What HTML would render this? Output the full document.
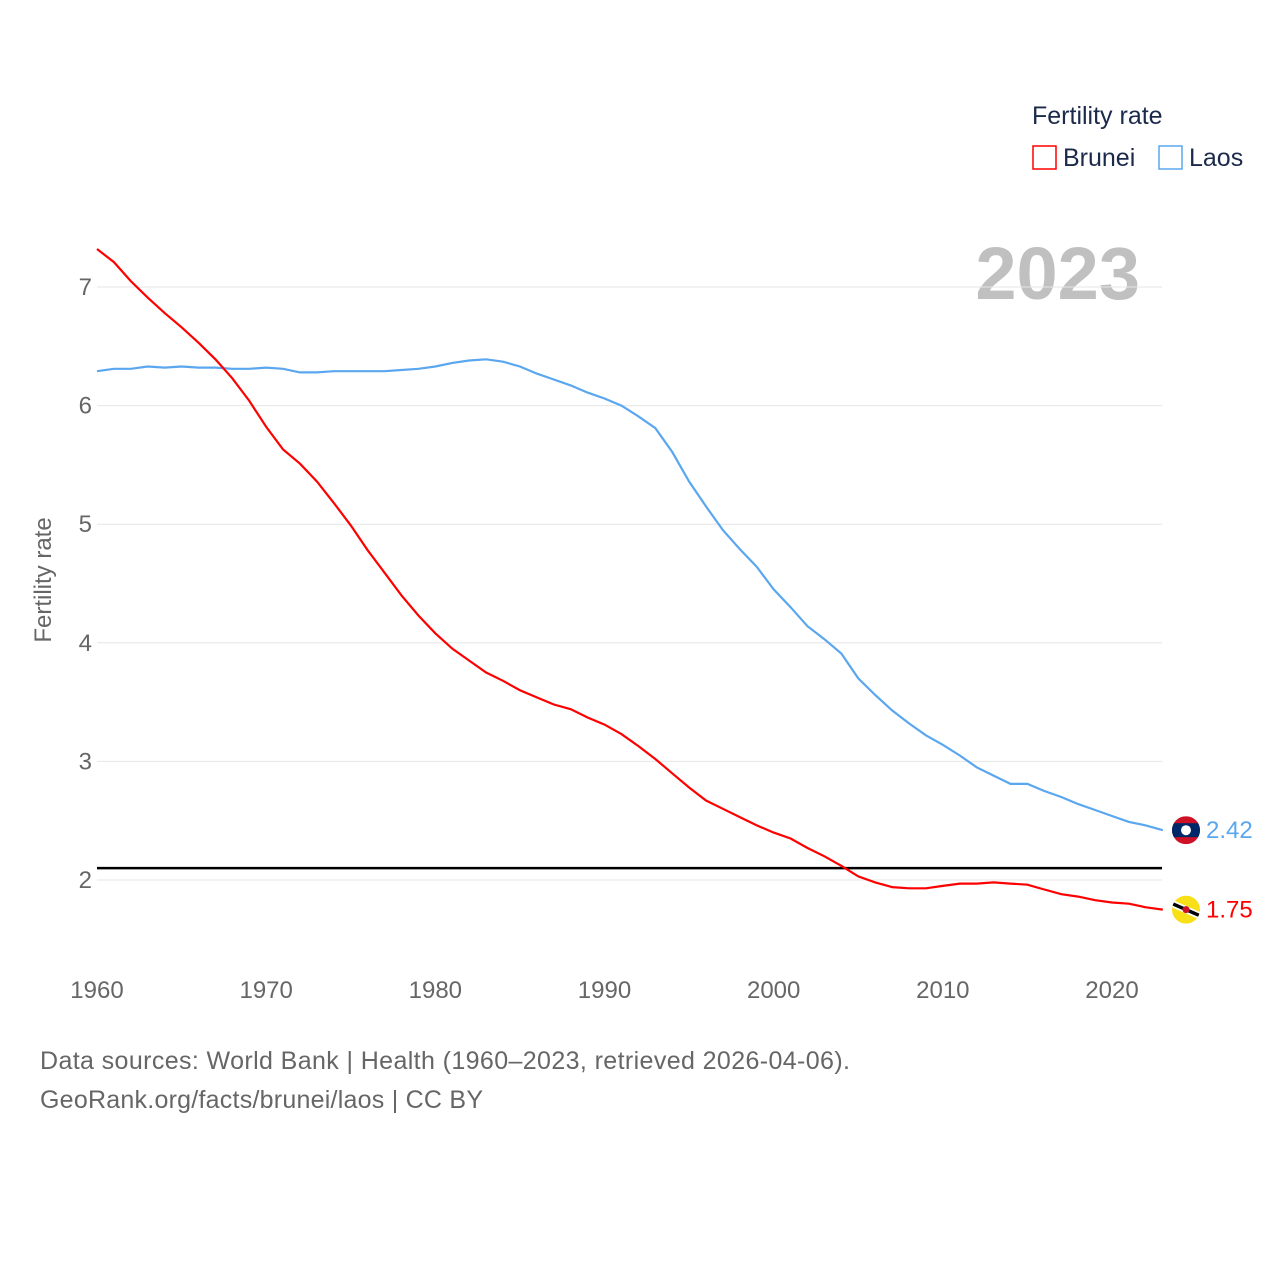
<!DOCTYPE html>
<html><head><meta charset="utf-8"><style>
body{margin:0;background:#fff;font-family:"Liberation Sans",sans-serif;}
svg text{font-family:"Liberation Sans",sans-serif;}
</style></head><body>
<svg id="c" width="1280" height="1280" xmlns="http://www.w3.org/2000/svg">
<defs><clipPath id="clipL"><circle id="clipLc" cx="1186" cy="0" r="14"/></clipPath><clipPath id="clipB"><circle id="clipBc" cx="1186" cy="0" r="14"/></clipPath></defs>
<text x="1032" y="124" font-size="25" fill="#1b2a4a">Fertility rate</text>
<rect x="1033" y="146" width="23" height="23" fill="none" stroke="#ff0000" stroke-width="1.5"/>
<text x="1063" y="166" font-size="25" fill="#1b2a4a">Brunei</text>
<rect x="1159" y="146" width="23" height="23" fill="none" stroke="#5aa7f0" stroke-width="1.5"/>
<text x="1189" y="166" font-size="25" fill="#1b2a4a">Laos</text>
<text x="1140" y="299" font-size="74" font-weight="bold" fill="#c0c0c0" text-anchor="end">2023</text>
<text transform="translate(51,580) rotate(-90)" font-size="24" fill="#666" text-anchor="middle">Fertility rate</text>
<g id="grid"></g><g id="series"></g>
<text x="40" y="1069" font-size="25" fill="#666" textLength="810">Data sources: World Bank | Health (1960–2023, retrieved 2026-04-06).</text>
<text x="40" y="1108" font-size="25" fill="#666" textLength="443">GeoRank.org/facts/brunei/laos | CC BY</text>
</svg>
<script>
const years=[];for(let y=1960;y<=2023;y++)years.push(y);
const brunei=[7.32,7.21,7.05,6.91,6.78,6.66,6.53,6.39,6.23,6.04,5.82,5.63,5.51,5.36,5.18,4.99,4.78,4.59,4.40,4.23,4.08,3.95,3.85,3.75,3.68,3.60,3.54,3.48,3.44,3.37,3.31,3.23,3.13,3.02,2.90,2.78,2.67,2.60,2.53,2.46,2.40,2.35,2.27,2.20,2.12,2.03,1.98,1.94,1.93,1.93,1.95,1.97,1.97,1.98,1.97,1.96,1.92,1.88,1.86,1.83,1.81,1.80,1.77,1.75];
const laos=[6.29,6.31,6.31,6.33,6.32,6.33,6.32,6.32,6.31,6.31,6.32,6.31,6.28,6.28,6.29,6.29,6.29,6.29,6.30,6.31,6.33,6.36,6.38,6.39,6.37,6.33,6.27,6.22,6.17,6.11,6.06,6.00,5.91,5.81,5.61,5.36,5.15,4.95,4.79,4.64,4.45,4.30,4.14,4.03,3.91,3.70,3.56,3.43,3.32,3.22,3.14,3.05,2.95,2.88,2.81,2.81,2.75,2.70,2.64,2.59,2.54,2.49,2.46,2.42];
const yTicks=[2,3,4,5,6,7];
const xTicks=[1960,1970,1980,1990,2000,2010,2020];
const replacement=2.1;
const NS="http://www.w3.org/2000/svg";
const X=y=>97+(y-1960)*(1015/60);
const Y=v=>880-(v-2)*118.6;
function mk(t,a,p){const e=document.createElementNS(NS,t);for(const k in a)e.setAttribute(k,a[k]);p.appendChild(e);return e;}
const g=document.getElementById('grid'),s=document.getElementById('series');
yTicks.forEach(v=>{
 const l=mk('line',{x1:97,x2:1162,y1:Y(v),y2:Y(v),stroke:'#e6e6e6','stroke-width':1},g);
 
 
 const t=mk('text',{x:92,y:Y(v)+8,'font-size':24,fill:'#666','text-anchor':'end'},g);t.textContent=v;
 
 
});
xTicks.forEach(v=>{
 const t=mk('text',{x:X(v),y:998,'font-size':24,fill:'#666','text-anchor':'middle'},g);t.textContent=v;
 
 
});
const rl=mk('line',{x1:97,x2:1162,y1:Y(replacement),y2:Y(replacement),stroke:'#000','stroke-width':2.5},s);


function line(d,col,name){
 const p=mk('path',{d:d.map((v,i)=>(i?'L':'M')+X(years[i]).toFixed(1)+','+Y(v).toFixed(1)).join(''),fill:'none',stroke:col,'stroke-width':2.2},s);
 
 
 const last=d[d.length-1],cy=Y(last);
 const fg=mk('g',{},s);
 
 
 if(name=='laos'){
  document.getElementById('clipLc').setAttribute('cy',cy);
  fg.setAttribute('clip-path','url(#clipL)');
  mk('rect',{x:1172,y:cy-14,width:28,height:28,fill:'#ce1126'},fg);
  mk('rect',{x:1172,y:cy-7,width:28,height:14,fill:'#002868'},fg);
  mk('circle',{cx:1186,cy:cy,r:5,fill:'#fff'},fg);
 } else {
  document.getElementById('clipBc').setAttribute('cy',cy);
  fg.setAttribute('clip-path','url(#clipB)');
  mk('rect',{x:1172,y:cy-14,width:28,height:28,fill:'#f7e017'},fg);
  mk('line',{x1:1170,y1:cy-7,x2:1202,y2:cy+7,stroke:'#fff','stroke-width':7},fg);
  mk('line',{x1:1170,y1:cy-7,x2:1202,y2:cy+7,stroke:'#000','stroke-width':3.5},fg);
  mk('circle',{cx:1186,cy:cy,r:3.5,fill:'#cf1126'},fg);
 }
 const t=mk('text',{x:1206,y:cy+8,'font-size':24,fill:col},s);t.textContent=last.toFixed(2);
 
 
}
line(laos,'#5aa7f0','laos');
line(brunei,'#ff0000','brunei');
</script>
</body></html>
